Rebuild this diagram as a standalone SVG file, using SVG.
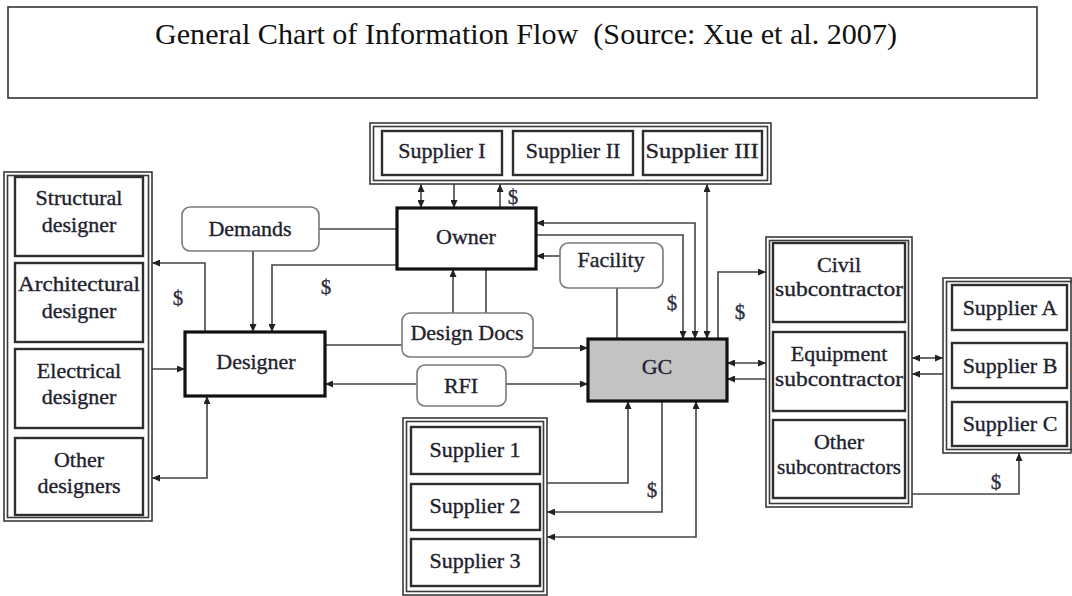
<svg xmlns="http://www.w3.org/2000/svg" width="1072" height="596" viewBox="0 0 1072 596">
  <style>
    .t { font-family: "Liberation Serif", "Times New Roman", serif; font-size: 22px; fill: #22222e; stroke: #22222e; stroke-width: 0.35; text-anchor: middle; }
    .title { font-family: "Liberation Serif", "Times New Roman", serif; font-size: 30px; fill: #111; }
    .d { font-family: "Liberation Serif", "Times New Roman", serif; font-size: 21px; fill: #2a2a3a; stroke: #2a2a3a; stroke-width: 0.3; text-anchor: middle; }
    .box { fill: #fff; stroke: #2e2e2e; stroke-width: 2.4; }
    .main { fill: #fff; stroke: #111; stroke-width: 3.2; }
    .gc { fill: #c3c3c3; stroke: #111; stroke-width: 3.2; }
    .frame { fill: none; stroke: #3a3a3a; stroke-width: 1.6; }
    .soft { fill: #fff; stroke: #7a7a7a; stroke-width: 1.6; }
    .c { fill: none; stroke: #444; stroke-width: 1.6; }
    .ae { marker-end: url(#ah); }
    .ab { marker-start: url(#ah); marker-end: url(#ah); }
  </style>
  <defs>
    <marker id="ah" markerWidth="8" markerHeight="7" refX="8" refY="3.5" orient="auto-start-reverse" markerUnits="userSpaceOnUse">
      <path d="M0,0 L8,3.5 L0,7 z" fill="#222"/>
    </marker>
  </defs>

  <rect width="1072" height="596" fill="#fff"/>

  <!-- Title -->
  <g id="title">
    <rect x="8" y="7" width="1029" height="91" fill="#fff" stroke="#333" stroke-width="1.6"/>
    <text class="title" x="155" y="44" textLength="742" lengthAdjust="spacingAndGlyphs" xml:space="preserve">General Chart of Information Flow  (Source: Xue et al. 2007)</text>
  </g>

  <!-- Connectors -->
  <g id="connectors">
    <path class="c ae" d="M253,251 V332"/>
    <path class="c ae" d="M397,265 H272 V332"/>
    <path class="c" d="M319,229 H397"/>
    <path class="c ae" d="M205,332 V263 H152"/>
    <path class="c ae" d="M152,369 H185"/>
    <path class="c ab" d="M152,478 H207 V396"/>
    <path class="c" d="M325,345 H402"/>
    <path class="c ae" d="M533,348 H588"/>
    <path class="c ae" d="M417,384 H325"/>
    <path class="c ae" d="M506,384 H588"/>
    <path class="c ae" d="M453,313 V269"/>
    <path class="c" d="M486,269 V313"/>
    <path class="c ab" d="M421,184 V208"/>
    <path class="c ae" d="M454,184 V208"/>
    <path class="c ae" d="M500,208 V184"/>
    <path class="c ab" d="M536,223 H695 V339"/>
    <path class="c ae" d="M536,235 H683 V339"/>
    <path class="c ab" d="M707,184 V339"/>
    <path class="c ae" d="M560,256 H536"/>
    <path class="c" d="M617,288 V339"/>
    <path class="c ae" d="M718,339 V272 H766"/>
    <path class="c ab" d="M727,363 H766"/>
    <path class="c ae" d="M766,379 H727"/>
    <path class="c ab" d="M912,358 H943"/>
    <path class="c ae" d="M943,374 H912"/>
    <path class="c ae" d="M912,494 H1019 V453"/>
    <path class="c ae" d="M547,483 H628 V401"/>
    <path class="c ae" d="M662,401 V512 H547"/>
    <path class="c ab" d="M696,401 V537 H547"/>
    <!-- payment labels -->
    <text class="d" x="178" y="305">$</text>
    <text class="d" x="326" y="294">$</text>
    <text class="d" x="513" y="204">$</text>
    <text class="d" x="672" y="310">$</text>
    <text class="d" x="740" y="319">$</text>
    <text class="d" x="652" y="497">$</text>
    <text class="d" x="996" y="489">$</text>
  </g>

  <!-- Designers -->
  <g id="designers">
    <rect class="frame" x="4" y="172" width="148" height="349"/>
    <rect class="frame" x="7.5" y="175.5" width="141" height="342"/>
  </g>
  <g id="structural-designer">
    <rect class="box" x="15" y="177" width="128" height="79"/>
    <text class="t" x="79" y="205">Structural</text>
    <text class="t" x="79" y="232">designer</text>
  </g>
  <g id="architectural-designer">
    <rect class="box" x="15" y="263" width="128" height="79"/>
    <text class="t" x="79" y="291" textLength="122" lengthAdjust="spacingAndGlyphs">Architectural</text>
    <text class="t" x="79" y="318">designer</text>
  </g>
  <g id="electrical-designer">
    <rect class="box" x="15" y="349" width="128" height="79"/>
    <text class="t" x="79" y="378">Electrical</text>
    <text class="t" x="79" y="404">designer</text>
  </g>
  <g id="other-designers">
    <rect class="box" x="15" y="438" width="128" height="77"/>
    <text class="t" x="79" y="467">Other</text>
    <text class="t" x="79" y="493">designers</text>
  </g>

  <g id="demands">
    <rect class="soft" x="182" y="207" width="137" height="44" rx="8"/>
    <text class="t" x="250" y="236">Demands</text>
  </g>
  <g id="designer">
    <rect class="main" x="185" y="332" width="140" height="64"/>
    <text class="t" x="256" y="369">Designer</text>
  </g>

  <!-- Owner side -->
  <g id="owner-suppliers">
    <rect class="frame" x="370" y="123" width="401" height="61"/>
    <rect class="frame" x="373.5" y="126.5" width="394" height="54"/>
  </g>
  <g id="supplier-i">
    <rect class="box" x="382" y="131" width="120" height="44"/>
    <text class="t" x="442" y="158">Supplier I</text>
  </g>
  <g id="supplier-ii">
    <rect class="box" x="513" y="131" width="120" height="44"/>
    <text class="t" x="573" y="158">Supplier II</text>
  </g>
  <g id="supplier-iii">
    <rect class="box" x="643" y="131" width="119" height="44"/>
    <text class="t" x="702" y="158" textLength="113" lengthAdjust="spacingAndGlyphs">Supplier III</text>
  </g>
  <g id="owner">
    <rect class="main" x="397" y="208" width="139" height="61"/>
    <text class="t" x="466" y="244">Owner</text>
  </g>
  <g id="facility">
    <rect class="soft" x="560" y="243" width="103" height="45" rx="8"/>
    <text class="t" x="611" y="267">Facility</text>
  </g>
  <g id="design-docs">
    <rect class="soft" x="402" y="313" width="131" height="44" rx="8"/>
    <text class="t" x="467" y="340">Design Docs</text>
  </g>
  <g id="rfi">
    <rect class="soft" x="417" y="365" width="89" height="41" rx="8"/>
    <text class="t" x="461" y="393">RFI</text>
  </g>
  <g id="gc">
    <rect class="gc" x="588" y="339" width="139" height="62"/>
    <text class="t" x="657" y="374">GC</text>
  </g>

  <!-- GC suppliers -->
  <g id="gc-suppliers">
    <rect class="frame" x="403" y="418" width="144" height="177"/>
    <rect class="frame" x="406.5" y="421.5" width="137" height="170"/>
  </g>
  <g id="supplier-1">
    <rect class="box" x="411" y="427" width="129" height="47"/>
    <text class="t" x="475" y="457">Supplier 1</text>
  </g>
  <g id="supplier-2">
    <rect class="box" x="411" y="484" width="129" height="46"/>
    <text class="t" x="475" y="513">Supplier 2</text>
  </g>
  <g id="supplier-3">
    <rect class="box" x="411" y="539" width="129" height="47"/>
    <text class="t" x="475" y="568">Supplier 3</text>
  </g>

  <!-- Subcontractors -->
  <g id="subcontractors">
    <rect class="frame" x="766" y="237" width="146" height="270"/>
    <rect class="frame" x="769.5" y="240.5" width="139" height="263"/>
  </g>
  <g id="civil-subcontractor">
    <rect class="box" x="773" y="243" width="132" height="79"/>
    <text class="t" x="839" y="272">Civil</text>
    <text class="t" x="839" y="296" textLength="128" lengthAdjust="spacingAndGlyphs">subcontractor</text>
  </g>
  <g id="equipment-subcontractor">
    <rect class="box" x="773" y="332" width="132" height="79"/>
    <text class="t" x="839" y="361">Equipment</text>
    <text class="t" x="839" y="386" textLength="128" lengthAdjust="spacingAndGlyphs">subcontractor</text>
  </g>
  <g id="other-subcontractors">
    <rect class="box" x="773" y="420" width="132" height="78"/>
    <text class="t" x="839" y="449">Other</text>
    <text class="t" x="839" y="474" textLength="124" lengthAdjust="spacingAndGlyphs">subcontractors</text>
  </g>

  <!-- Subcontractor suppliers -->
  <g id="sub-suppliers">
    <rect class="frame" x="943" y="278" width="128" height="175"/>
    <rect class="frame" x="946.5" y="281.5" width="128" height="168"/>
  </g>
  <g id="supplier-a">
    <rect class="box" x="952" y="285" width="115" height="45"/>
    <text class="t" x="1010" y="315">Supplier A</text>
  </g>
  <g id="supplier-b">
    <rect class="box" x="952" y="343" width="115" height="45"/>
    <text class="t" x="1010" y="373">Supplier B</text>
  </g>
  <g id="supplier-c">
    <rect class="box" x="952" y="402" width="115" height="44"/>
    <text class="t" x="1010" y="431">Supplier C</text>
  </g>
</svg>
